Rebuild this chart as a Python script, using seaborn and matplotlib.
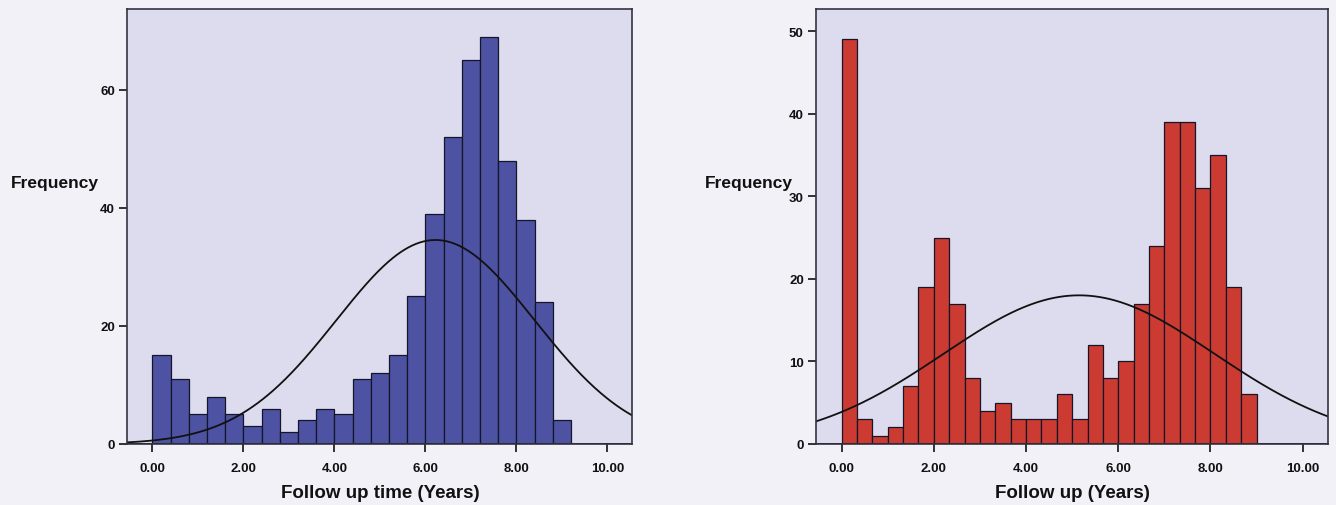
import numpy as np
import pandas as pd
import matplotlib
matplotlib.use("Agg")
import matplotlib.pyplot as plt
import seaborn as sns

# ---- data ----
# Left panel: follow-up time, bins of 0.4 years starting at 0
left_bin_width = 0.4
left_counts = [15, 11, 5, 8, 5, 3, 6, 2, 4, 6, 5, 11, 12, 15, 25, 39, 52, 65, 69, 48, 38, 24, 4]
left_mean, left_sd = 6.22, 2.18

# Right panel: follow-up, bins of 1/3 year starting at 0
right_bin_width = 1.0 / 3.0
right_counts = [49, 3, 1, 2, 7, 19, 25, 17, 8, 4, 5, 3, 3, 3, 6, 3, 12, 8, 10, 17, 24, 39, 39, 31, 35, 19, 6]
right_mean, right_sd = 5.15, 2.94

x_ticks = [0, 2, 4, 6, 8, 10]
x_tick_labels = ["0.00", "2.00", "4.00", "6.00", "8.00", "10.00"]
left_y_ticks = [0, 20, 40, 60]
right_y_ticks = [0, 10, 20, 30, 40, 50]

sns.set_theme(style="white")
plt.rcParams["font.family"] = ["Liberation Sans", "DejaVu Sans"]
plt.rcParams["text.color"] = "#111111"
plt.rcParams["xtick.color"] = "#111111"
plt.rcParams["ytick.color"] = "#111111"
plt.rcParams["axes.labelcolor"] = "#111111"

fig = plt.figure(figsize=(13.36, 5.06), dpi=100)
fig.patch.set_facecolor("#f3f1f8")

ax1 = fig.add_axes([0.0954, 0.1206, 0.378, 0.860])
ax2 = fig.add_axes([0.611, 0.1206, 0.383, 0.860])


def draw(ax, counts, bw, mean, sd, color, xlabel, yticks, ylim, ylab_x):
    n = len(counts)
    edges = [float(i * bw) for i in range(n + 1)]
    mids = [(edges[i] + edges[i + 1]) / 2 for i in range(n)]
    df = pd.DataFrame({"x": mids, "w": counts})
    sns.histplot(data=df, x="x", weights="w", bins=edges, stat="count",
                 color=color, alpha=1.0, edgecolor="#15152a", linewidth=0.9, ax=ax)
    total = float(np.sum(counts))
    xs = np.linspace(-0.55, 10.55, 400)
    ys = total * bw * np.exp(-0.5 * ((xs - mean) / sd) ** 2) / (sd * np.sqrt(2 * np.pi))
    sns.lineplot(x=xs, y=ys, color="#111111", linewidth=1.3, ax=ax)
    ax.axhline(0, color="#111111", linewidth=1.4, zorder=1)
    ax.set_facecolor("#dcdcee")
    ax.set_xlim(-0.55, 10.55)
    ax.set_ylim(*ylim)
    ax.set_xticks(x_ticks)
    ax.set_xticklabels(x_tick_labels, fontsize=9.5, fontweight="bold")
    ax.set_yticks(yticks)
    ax.set_yticklabels([str(t) for t in yticks], fontsize=9.5, fontweight="bold")
    ax.tick_params(axis="both", direction="out", length=6, width=1.2, color="#111111",
                   bottom=True, left=True, pad=3)
    ax.tick_params(axis="x", pad=7)
    for s in ax.spines.values():
        s.set_color("#333340")
        s.set_linewidth(1.2)
    ax.set_xlabel(xlabel, fontsize=13.5, fontweight="bold", labelpad=7)
    ax.set_ylabel("Frequency", fontsize=12.5, fontweight="bold", rotation=0,
                  va="center", ha="center")
    ax.yaxis.set_label_coords(ylab_x, 0.6)
    ax.grid(False)


draw(ax1, left_counts, left_bin_width, left_mean, left_sd, "#4d52a2",
     "Follow up time (Years)", left_y_ticks, (0, 73.7), -0.143)
draw(ax2, right_counts, right_bin_width, right_mean, right_sd, "#cc3b31",
     "Follow up (Years)", right_y_ticks, (0, 52.7), -0.132)

fig.savefig("out.png", dpi=100, facecolor=fig.get_facecolor())
